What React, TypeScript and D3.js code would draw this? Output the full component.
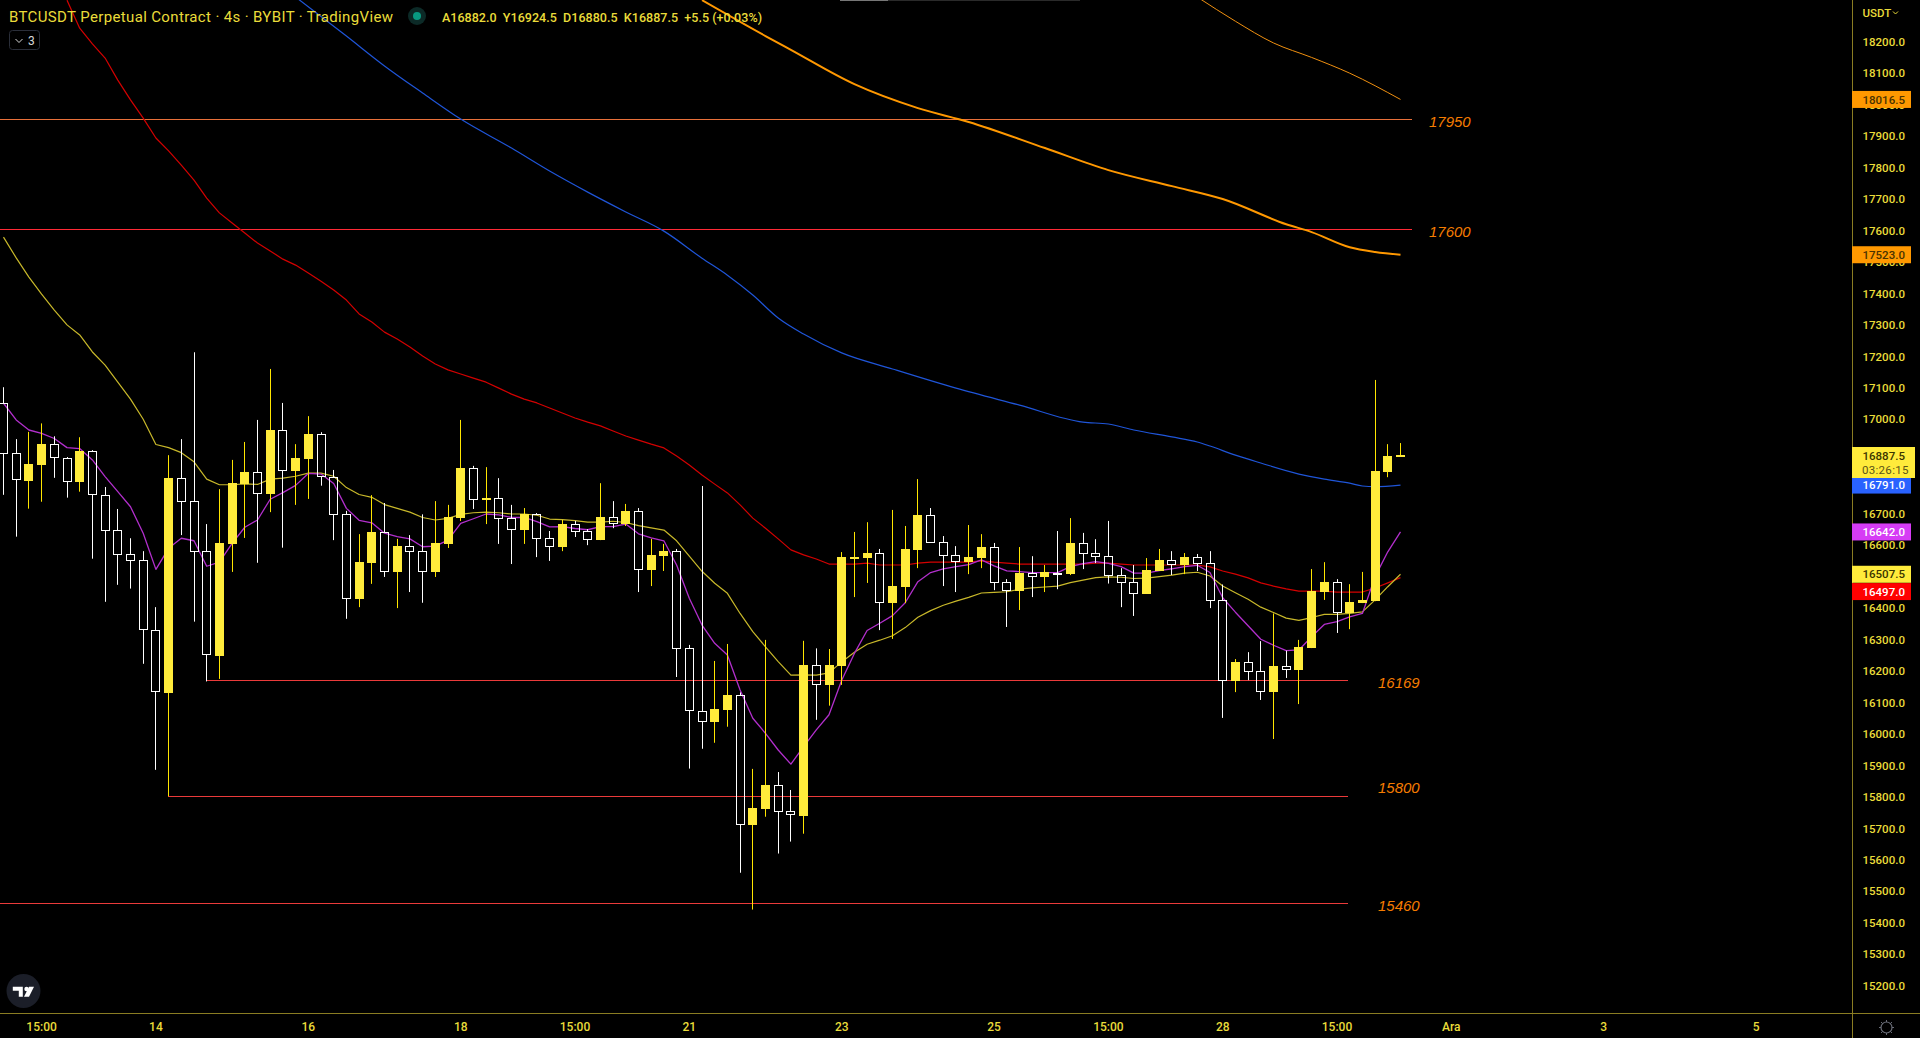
// App.tsx
import React from "react";
import * as d3 from "d3";

const highs = [
  17102, 16937, 16960, 16987, 16946, 16880, 16943, 16902, 16785, 16715,
  16622, 16581, 16403, 16886, 16937, 17213, 16667, 16778, 16871, 16928,
  16998, 17160, 17052, 16921, 17010, 16959, 16839, 16709, 16635, 16759,
  16734, 16620, 16632, 16698, 16740, 16728, 16998, 16852, 16848, 16813,
  16728, 16718, 16702, 16645, 16680, 16677, 16651, 16797, 16740, 16731,
  16718, 16620, 16604, 16588, 16283, 16788, 16232, 16286, 16132, 15889,
  16299, 15879, 15822, 16296, 16272, 16270, 16578, 16642, 16673, 16588,
  16712, 16661, 16810, 16718, 16629, 16597, 16664, 16635, 16607, 16492,
  16594, 16565, 16537, 16645, 16686, 16639, 16619, 16677, 16527, 16537,
  16559, 16588, 16581, 16575, 16572, 16581, 16475, 16238, 16260, 16295,
  16383, 16265, 16299, 16524, 16546, 16492, 16476, 16515, 17125, 16921, 16924.5,
];
const opens = [
  17051, 16892, 16805, 16855, 16920, 16876, 16801, 16898, 16761, 16647,
  16571, 16552, 16329, 16131, 16812, 16739, 16580, 16249, 16604, 16794,
  16831, 16763, 16965, 16836, 16874, 16952, 16816, 16698, 16429, 16543,
  16641, 16515, 16596, 16580, 16515, 16604, 16686, 16844, 16743, 16749,
  16685, 16648, 16698, 16622, 16594, 16666, 16644, 16616, 16688, 16667,
  16707, 16521, 16565, 16581, 16272, 16072, 16038, 16076, 16123, 15711,
  15762, 15837, 15754, 15739, 16218, 16156, 16216, 16559, 16559, 16574,
  16416, 16467, 16585, 16695, 16609, 16568, 16546, 16559, 16593, 16482,
  16454, 16511, 16499, 16513, 16508, 16606, 16574, 16564, 16504, 16482,
  16445, 16518, 16552, 16537, 16561, 16542, 16425, 16168, 16228, 16199,
  16133, 16215, 16203, 16273, 16451, 16482, 16384, 16416, 16422, 16832, 16882,
];
const closes = [
  16891, 16806, 16858, 16921, 16876, 16802, 16899, 16760, 16646, 16570,
  16551, 16329, 16132, 16813, 16738, 16579, 16250, 16607, 16798, 16832,
  16764, 16966, 16837, 16877, 16953, 16816, 16697, 16430, 16546, 16642,
  16516, 16597, 16579, 16516, 16607, 16690, 16845, 16745, 16750, 16684,
  16649, 16699, 16621, 16595, 16667, 16643, 16617, 16689, 16668, 16709,
  16522, 16569, 16581, 16271, 16072, 16039, 16079, 16124, 15712, 15765,
  15838, 15753, 15741, 16219, 16157, 16219, 16562, 16562, 16575, 16417,
  16470, 16588, 16696, 16608, 16567, 16547, 16562, 16594, 16481, 16455,
  16511, 16500, 16515, 16509, 16607, 16573, 16563, 16503, 16481, 16446,
  16521, 16553, 16537, 16562, 16541, 16424, 16169, 16229, 16198, 16134,
  16216, 16204, 16276, 16454, 16483, 16385, 16419, 16426, 16836, 16883, 16887.5,
];
const lows = [
  16760, 16627, 16716, 16738, 16814, 16751, 16770, 16557, 16420, 16474,
  16462, 16223, 15886, 15802, 16632, 16357, 16167, 16175, 16515, 16623,
  16544, 16705, 16592, 16728, 16747, 16789, 16616, 16366, 16403, 16477,
  16499, 16400, 16451, 16417, 16499, 16591, 16677, 16715, 16667, 16604,
  16540, 16604, 16562, 16550, 16581, 16626, 16600, 16616, 16654, 16661,
  16451, 16470, 16518, 16181, 15890, 15953, 15972, 16023, 15559, 15442,
  15737, 15620, 15658, 15683, 16045, 16090, 16156, 16435, 16480, 16330,
  16302, 16416, 16527, 16608, 16470, 16451, 16508, 16527, 16457, 16340,
  16394, 16435, 16451, 16460, 16505, 16524, 16543, 16478, 16403, 16375,
  16445, 16518, 16505, 16508, 16518, 16400, 16051, 16133, 16171, 16108,
  15984, 16178, 16095, 16273, 16426, 16321, 16333, 16416, 16422, 16816, 16880.5,
];

// moving averages, one value per candle
const emaFast = [
  17051, 16998, 16966, 16955, 16939, 16910, 16907, 16871, 16818, 16770,
  16722, 16638, 16523, 16590, 16622, 16614, 16533, 16546, 16606, 16657,
  16680, 16746, 16767, 16790, 16828, 16826, 16796, 16717, 16679, 16671,
  16638, 16627, 16620, 16595, 16597, 16616, 16669, 16684, 16699, 16696,
  16688, 16688, 16675, 16658, 16659, 16653, 16649, 16659, 16659, 16667,
  16636, 16623, 16614, 16537, 16431, 16346, 16288, 16251, 16140, 16050,
  16002, 15949, 15904, 15960, 16013, 16061, 16171, 16256, 16329, 16352,
  16376, 16417, 16484, 16513, 16525, 16532, 16538, 16553, 16534, 16518,
  16516, 16513, 16513, 16513, 16532, 16541, 16548, 16542, 16532, 16511,
  16511, 16519, 16525, 16532, 16536, 16513, 16433, 16387, 16344, 16301,
  16282, 16265, 16267, 16309, 16348, 16357, 16372, 16383, 16500, 16579, 16642,
];
const emaMid = [
  17579, 17513, 17452, 17398, 17347, 17300, 17268, 17214, 17172, 17118,
  17064, 17000, 16920, 16910, 16894, 16865, 16810, 16792, 16792, 16795,
  16793, 16810, 16813, 16819, 16829, 16829, 16819, 16783, 16761, 16752,
  16729, 16717, 16705, 16688, 16680, 16685, 16698, 16703, 16705, 16703,
  16699, 16699, 16695, 16683, 16681, 16678, 16673, 16673, 16676, 16672,
  16662, 16655, 16648, 16614, 16565, 16517, 16479, 16447, 16383, 16325,
  16277, 16230, 16187, 16188, 16187, 16194, 16229, 16260, 16285, 16298,
  16312, 16338, 16371, 16392, 16409, 16422, 16434, 16448, 16450, 16452,
  16460, 16464, 16467, 16470, 16481, 16489, 16497, 16499, 16498, 16494,
  16495, 16500, 16505, 16511, 16514, 16502, 16470, 16449, 16428, 16403,
  16386, 16368, 16361, 16370, 16380, 16380, 16383, 16388, 16426, 16468, 16507.5,
];
const emaRedStart = 5;
const emaRed = [
  18332, 18243, 18193, 18148, 18078, 18015, 17957, 17894, 17853, 17808,
  17760, 17703, 17656, 17624, 17592, 17560, 17535, 17509, 17490, 17465,
  17439, 17411, 17379, 17335, 17309, 17277, 17255, 17230, 17201, 17176,
  17157, 17144, 17131, 17118, 17099, 17080, 17064, 17052, 17036, 17020,
  17004, 16991, 16979, 16963, 16947, 16934, 16921, 16909, 16883, 16855,
  16823, 16794, 16766, 16728, 16686, 16654, 16620, 16585, 16569, 16556,
  16540, 16540, 16540, 16543, 16537, 16537, 16537, 16543, 16546, 16546,
  16546, 16546, 16550, 16546, 16543, 16540, 16540, 16540, 16540, 16540,
  16540, 16543, 16543, 16540, 16537, 16537, 16537, 16537, 16537, 16537,
  16531, 16518, 16508, 16496, 16480, 16470, 16461, 16454, 16454, 16454,
  16451, 16451, 16451, 16464, 16480, 16497,
];

// slower averages, read at the candles listed beside them
const blueIdx = [23, 27, 30, 33, 36, 40, 43, 46, 49, 52, 55, 57, 59, 61, 63, 66, 70, 75, 80, 85, 87, 89, 92, 94, 95, 97, 99, 102, 104, 106, 107, 108, 110];
const blueVals = [18342, 18218, 18123, 18037, 17954, 17862, 17789, 17722, 17659, 17598, 17512, 17458, 17395, 17322, 17271, 17211, 17160, 17099, 17045, 16991, 16985, 16966, 16944, 16928, 16915, 16886, 16861, 16826, 16810, 16797, 16788, 16786, 16791];
const orangeIdx = [55, 60, 62, 67, 72, 76, 82, 87, 92, 96, 101, 103, 106, 108, 110];
const orangeVals = [18332, 18218, 18174, 18065, 17989, 17945, 17862, 17792, 17741, 17700, 17620, 17595, 17547, 17532, 17523];
const thinIdx = [94, 97, 100, 103, 106, 110];
const thinVals = [18342, 18265, 18196, 18150, 18100, 18016.5];

const levelPrices = [17950, 17600, 16169, 15800, 15460];
const levelFrom = [0, 0, 206, 168, 0];
const levelTo = [1412, 1412, 1348, 1348, 1348];
const levelColors = ["#e8703a", "#ff2a36", "#ea3a3a", "#ea3a3a", "#ea3a3a"];
const levelLabelX = [1429, 1429, 1378, 1378, 1378];
const levelLabelDy = [1, 1, 2, -9, 2];

const priceTicks = d3.range(15200, 18201, 100);
const timeIdx = [3, 12, 24, 36, 45, 54, 66, 78, 87, 96, 105, 114, 126, 138];
const timeLabels = ["15:00", "14", "16", "18", "15:00", "21", "23", "25", "15:00", "28", "15:00", "Ara", "3", "5"];

const tagPrices = [18016.5, 17523, 16791, 16642, 16507.5, 16497];
const tagColors = ["#ff9800", "#ff9800", "#2962ff", "#d63cf5", "#ffeb3b", "#ff0000"];
const tagText = ["#4a3300", "#4a3300", "#ffffff", "#ffffff", "#3a3500", "#ffffff"];
const tagShift = [0, 0, 0, 0, 0, 14]; // the red tag is pushed below the yellow one

const WIDTH = 1920;
const HEIGHT = 1038;
const AXIS_X = 1852;
const AXIS_Y = 1013;
const FONT = "Roboto, sans-serif";
const YELLOW = "#ffeb3b";
const TEXT = "#eadc3a";
const AXIS_LINE = "#8a7c22";

const x = d3.scaleLinear().domain([0, 110]).range([3.5, 1400.5]);
const y = d3.scaleLinear().domain([18200, 15200]).range([41.7, 985.7]);
const px = (i: number) => Math.floor(x(i)) + 0.5;

const lineOf = (idx: number[], vals: number[]) =>
  d3
    .line<number>()
    .x((_, k) => x(idx[k]))
    .y(d => y(d))(vals) ?? "";

const smoothOf = (idx: number[], vals: number[]) =>
  d3
    .line<number>()
    .x((_, k) => x(idx[k]))
    .y(d => y(d))
    .curve(d3.curveMonotoneX)(vals) ?? "";

const seq = (start: number, vals: number[]) => vals.map((_, k) => start + k);

const App: React.FC = () => {
  const lastClose = closes[closes.length - 1];
  return (
    <svg
      width={WIDTH}
      height={HEIGHT}
      style={{ position: "fixed", left: 0, top: 0, background: "#000", display: "block" }}
      fontFamily={FONT}
    >
      <rect x={840} y={0} width={240} height={1} fill="#2a2a2a" />
      <rect x={840} y={0} width={48} height={1} fill="#777" />

      {levelPrices.map((p, i) => (
        <line
          key={p}
          x1={levelFrom[i]}
          x2={levelTo[i]}
          y1={Math.round(y(p)) - 0.5}
          y2={Math.round(y(p)) - 0.5}
          stroke={levelColors[i]}
        />
      ))}
      {levelPrices.map((p, i) => (
        <text
          key={p}
          x={levelLabelX[i]}
          y={y(p) + levelLabelDy[i]}
          dy="0.36em"
          fontSize={15}
          fontStyle="italic"
          fontFamily="'Liberation Sans', sans-serif"
          fill="#f57c00"
        >
          {p}
        </text>
      ))}

      <g fill="none" strokeLinejoin="round">
        <path d={smoothOf(thinIdx, thinVals)} stroke="#f09010" strokeWidth={1} />
        <path d={smoothOf(orangeIdx, orangeVals)} stroke="#ff9800" strokeWidth={2} />
        <path d={smoothOf(blueIdx, blueVals)} stroke="#1f55d8" strokeWidth={1.2} />
        <path d={lineOf(seq(emaRedStart, emaRed), emaRed)} stroke="#d40000" strokeWidth={1.2} />
        <path d={lineOf(seq(0, emaMid), emaMid)} stroke="#c8b82a" strokeWidth={1.2} />
        <path d={lineOf(seq(0, emaFast), emaFast)} stroke="#b22fcc" strokeWidth={1.3} />
      </g>

      {closes.map((c, i) => {
        const o = opens[i];
        const up = c >= o;
        const top = Math.round(y(Math.max(o, c)));
        const bottom = Math.round(y(Math.min(o, c)));
        const cx = px(i);
        const wick = up ? "#ffe600" : "#ffffff";
        return (
          <g key={i}>
            <line x1={cx} x2={cx} y1={y(highs[i])} y2={top} stroke={wick} />
            <line x1={cx} x2={cx} y1={bottom} y2={y(lows[i])} stroke={wick} />
            {up ? (
              <rect x={cx - 4.5} y={top} width={9} height={Math.max(bottom - top, 2)} fill={YELLOW} />
            ) : (
              <rect
                x={cx - 4}
                y={top + 0.5}
                width={8}
                height={Math.max(bottom - top - 1, 1)}
                fill="none"
                stroke="#fff"
              />
            )}
          </g>
        );
      })}

      {/* axes */}
      <line x1={AXIS_X + 0.5} x2={AXIS_X + 0.5} y1={0} y2={HEIGHT} stroke={AXIS_LINE} />
      <line x1={0} x2={WIDTH} y1={AXIS_Y + 0.5} y2={AXIS_Y + 0.5} stroke={AXIS_LINE} />

      {priceTicks.map(p => (
        <text key={p} x={1862.5} y={y(p)} dy="0.36em" fontSize={11.5} fontWeight={500} fill={TEXT}>
          {d3.format(".1f")(p)}
        </text>
      ))}
      {timeIdx.map((t, i) => (
        <text key={i} x={x(t)} y={1027} dy="0.36em" fontSize={12} fontWeight={500} textAnchor="middle" fill={TEXT}>
          {timeLabels[i]}
        </text>
      ))}

      {tagPrices.map((p, i) => (
        <g key={p}>
          <rect x={AXIS_X} y={y(p) + tagShift[i] - 8.5} width={59} height={17} fill={tagColors[i]} />
          <text x={1862.5} y={y(p) + tagShift[i]} dy="0.36em" fontSize={11.5} fontWeight={500} fill={tagText[i]}>
            {d3.format(".1f")(p)}
          </text>
        </g>
      ))}
      <rect x={AXIS_X} y={447} width={63} height={31} fill={YELLOW} />
      <text x={1862.5} y={455.5} dy="0.36em" fontSize={11.5} fontWeight={500} fill="#3a3500">
        {d3.format(".1f")(lastClose)}
      </text>
      <text x={1862} y={470} dy="0.36em" fontSize={11.5} letterSpacing={0.3} fill="#5c5518">
        03:26:15
      </text>

      <text x={1862.5} y={12.5} dy="0.36em" fontSize={11.5} fontWeight={500} fill={TEXT}>
        USDT
      </text>
      <path d="M1893 11.5l2.5 2.5l2.5-2.5" fill="none" stroke={TEXT} />

      {/* legend */}
      <text x={9} y={16.5} dy="0.36em" fontSize={15} textLength={384} fill={TEXT}>
        BTCUSDT Perpetual Contract · 4s · BYBIT · TradingView
      </text>
      <circle cx={417} cy={16} r={9} fill="#0c2a27" />
      <circle cx={417} cy={16} r={4} fill="#089981" />
      <text x={442} y={17} dy="0.36em" fontSize={12.5} fontWeight={500} textLength={320} fill={TEXT} xmlSpace="preserve">
        A16882.0  Y16924.5  D16880.5  K16887.5  +5.5 (+0.03%)
      </text>
      <rect x={9.5} y={30.5} width={30} height={19} rx={3} fill="#000" stroke="#2a2e39" />
      <path d="M15.5 39l3.5 3.5l3.5-3.5" fill="none" stroke="#d8d8d8" />
      <text x={28} y={40.5} dy="0.36em" fontSize={12} fill="#d8d8d8">
        3
      </text>

      {/* logo and settings */}
      <circle cx={23.5} cy={991} r={17} fill="#1b1e28" />
      <path d="M12.8 986.8h10v10h-4v-6h-6z" fill="#fff" />
      <circle cx={26.5} cy={989} r={2.2} fill="#fff" />
      <path d="M29 986.8h5l-5 10h-5z" fill="#fff" />
      <g stroke="#6a6d78" fill="none">
        <circle cx={1886.5} cy={1027.5} r={5.5} strokeWidth={1.2} />
        <path d="M1886.5 1020v2M1886.5 1033v2M1879 1027.5h2M1892 1027.5h2M1881 1022l1.4 1.4M1890.6 1031.6l1.4 1.4M1881 1033l1.4-1.4M1890.6 1023.4l1.4-1.4" />
      </g>
    </svg>
  );
};

export default App;
